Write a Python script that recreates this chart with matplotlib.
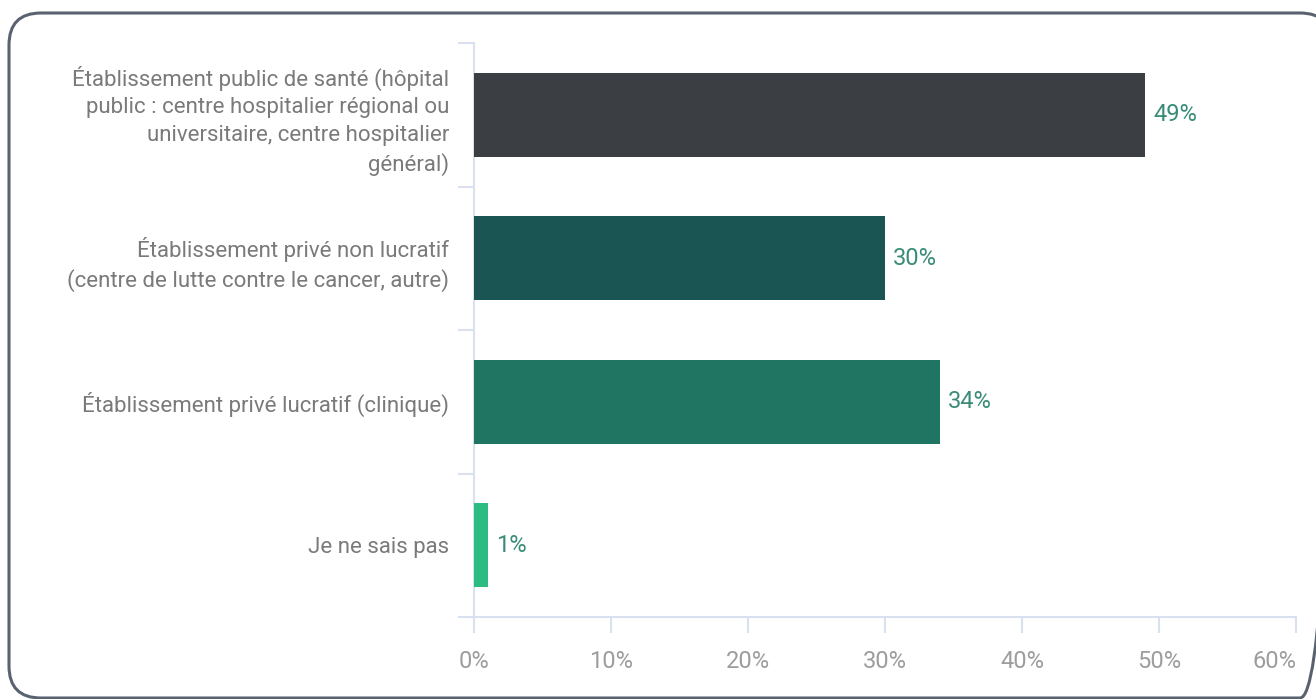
import matplotlib
matplotlib.use("Agg")
import matplotlib.pyplot as plt
from matplotlib import font_manager
from matplotlib.patches import FancyBboxPatch
from matplotlib.ticker import FixedLocator

# Données
categories = [
    "Établissement public de santé (hôpital\npublic : centre hospitalier régional ou\nuniversitaire, centre hospitalier\ngénéral)",
    "Établissement privé non lucratif\n(centre de lutte contre le cancer, autre)",
    "Établissement privé lucratif (clinique)",
    "Je ne sais pas",
]
valeurs = [49, 30, 34, 1]
couleurs = ["#3b3f43", "#1b5553", "#1f7562", "#2dbb84"]
graduations = [0, 10, 20, 30, 40, 50, 60]

# Police étroite si disponible
noms = {f.name for f in font_manager.fontManager.ttflist}
police = "Liberation Sans Narrow" if "Liberation Sans Narrow" in noms else "Roboto"
plt.rcParams["font.family"] = [police, "DejaVu Sans"]

W, H = 1316, 699
fig = plt.figure(figsize=(W / 100, H / 100), dpi=100)

# Cadre arrondi autour du graphique, en pixels (coupé à droite et en bas)
fond = fig.add_axes([0, 0, 1, 1], zorder=0)
fond.set_xlim(0, W)
fond.set_ylim(H, 0)
fond.axis("off")
fond.add_patch(FancyBboxPatch((9, 13), 1323, 685,
                              boxstyle="round,pad=0,rounding_size=32",
                              facecolor="none", edgecolor="#5a6270",
                              linewidth=2.2))

ax = fig.add_axes([474 / W, 1 - 617 / H, 822 / W, 574 / H], zorder=1)
ax.patch.set_alpha(0)

y = range(len(categories))
barres = ax.barh(y, valeurs, height=0.585, color=couleurs, zorder=3)

for b, v in zip(barres, valeurs):
    ax.annotate(f"{v}%", (b.get_width(), b.get_y() + b.get_height() / 2),
                xytext=(6, 0), textcoords="offset points",
                va="center", ha="left", fontsize=17, color="#3a8c78")

ax.set_xlim(0, 60)
ax.set_ylim(len(categories) - 0.5, -0.5)
ax.set_xticks(graduations)
ax.set_xticklabels([f"{g}%" for g in graduations])
ax.get_xticklabels()[-1].set_horizontalalignment("right")
ax.set_yticks(list(y))
ax.set_yticklabels(categories, fontsize=16, color="#7a7a7a", linespacing=1.4)
ax.yaxis.set_minor_locator(FixedLocator([i - 0.5 for i in range(len(categories) + 1)]))

trait = "#d9e0f0"
for s in ["top", "right"]:
    ax.spines[s].set_visible(False)
for s in ["left", "bottom"]:
    ax.spines[s].set_color(trait)
    ax.spines[s].set_linewidth(1.5)

ax.tick_params(axis="y", which="major", length=0, pad=18)
ax.tick_params(axis="y", which="minor", length=11.5, width=1.5, color=trait)
ax.tick_params(axis="x", length=11.5, width=1.5, color=trait, pad=12,
               labelsize=17, labelcolor="#9d9d9d")

fig.savefig("out.png", dpi=100)
